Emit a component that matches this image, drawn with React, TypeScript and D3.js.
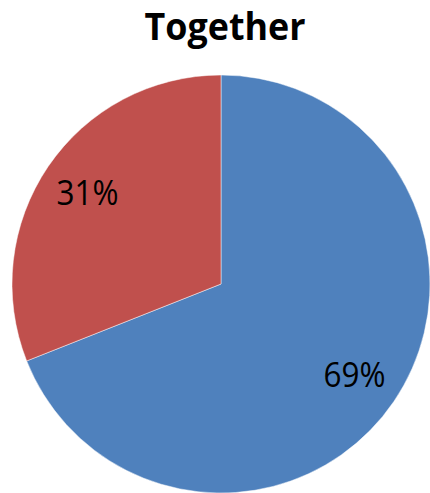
import React from "react";
import * as d3 from "d3";

const categories = ["A", "B"];
const values = [69, 31];
const labels = ["69%", "31%"];
const colors = ["#4F81BD", "#C0504D"];
const title = "Together";

export default function App() {
  const W = 430, H = 493;
  const cx = 221, cy = 284, r = 209;
  const pie = d3.pie<number>().sort(null).value((d) => d)(values);
  const arc = d3.arc<d3.PieArcDatum<number>>().innerRadius(0).outerRadius(r);
  const labelArc = d3.arc<d3.PieArcDatum<number>>().innerRadius(r * 0.772).outerRadius(r * 0.772);
  const lfs = 34;
  return (
    <svg width={W} height={H} style={{ position: "absolute", left: 0, top: 0 }}>
      <rect width={W} height={H} fill="#fff" />
      <text x={225} y={40} textAnchor="middle" fontFamily="'Open Sans', sans-serif" fontWeight="bold" fontSize={38} textLength={161} lengthAdjust="spacingAndGlyphs" fill="#000">{title}</text>
      <g transform={`translate(${cx},${cy})`}>
        {pie.map((p, i) => (
          <path key={categories[i]} d={arc(p) || ""} fill={colors[i]} stroke="#ffffff" strokeWidth={0.8} strokeOpacity={0.6} />
        ))}
        {pie.map((p, i) => {
          const [x, y] = labelArc.centroid(p);
          return (
            <text key={"l" + i} x={x} y={y + lfs * 0.357} textAnchor="middle" fontFamily="'Open Sans', sans-serif" fontSize={lfs} textLength={62} lengthAdjust="spacingAndGlyphs" fill="#000">{labels[i]}</text>
          );
        })}
      </g>
    </svg>
  );
}
